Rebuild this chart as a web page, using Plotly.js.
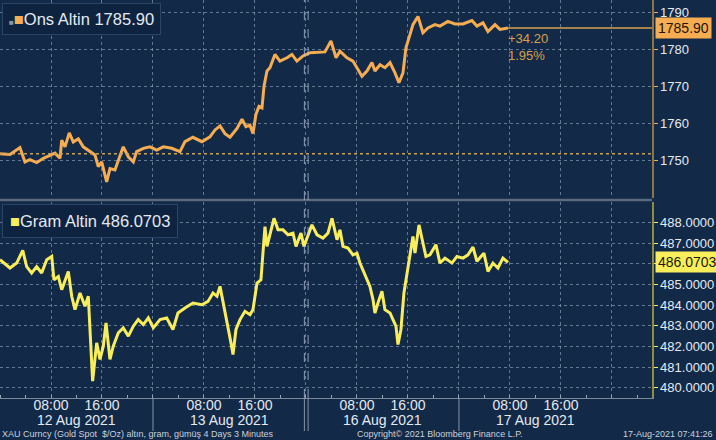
<!DOCTYPE html>
<html>
<head>
<meta charset="utf-8">
<script src="https://cdn.plot.ly/plotly-3.0.1.min.js"></script>
<style>
html,body{margin:0;padding:0;background:#122948;}
#chart{width:716px;height:440px;}
</style>
</head>
<body>
<div id="chart"></div>
<script>
// ---- data ----
const onsTime = ['2021-08-12 00:00','2021-08-12 01:34','2021-08-12 03:08','2021-08-12 03:55','2021-08-12 04:42','2021-08-12 05:45','2021-08-12 06:48','2021-08-12 07:51','2021-08-12 08:38','2021-08-12 09:25','2021-08-12 09:41','2021-08-12 10:12','2021-08-12 10:52','2021-08-12 11:30','2021-08-12 12:17','2021-08-12 13:04','2021-08-12 14:07','2021-08-12 14:54','2021-08-12 15:25','2021-08-12 15:57','2021-08-12 16:44','2021-08-12 17:15','2021-08-12 18:02','2021-08-12 18:34','2021-08-12 19:20','2021-08-12 20:08','2021-08-12 20:55','2021-08-12 21:26','2021-08-12 22:29','2021-08-12 23:32','2021-08-13 00:35','2021-08-13 01:37','2021-08-13 02:56','2021-08-13 04:14','2021-08-13 05:01','2021-08-13 06:16','2021-08-13 07:41','2021-08-13 08:56','2021-08-13 09:44','2021-08-13 10:31','2021-08-13 11:18','2021-08-13 12:05','2021-08-13 13:11','2021-08-13 13:58','2021-08-13 14:35','2021-08-13 15:13','2021-08-13 15:41','2021-08-13 16:09','2021-08-13 16:38','2021-08-13 17:06','2021-08-13 17:25','2021-08-13 17:53','2021-08-13 18:21','2021-08-13 19:08','2021-08-13 19:55','2021-08-13 21:01','2021-08-13 21:48','2021-08-13 22:35','2021-08-13 23:32','2021-08-16 00:38','2021-08-16 01:44','2021-08-16 02:59','2021-08-16 03:55','2021-08-16 04:43','2021-08-16 05:20','2021-08-16 06:26','2021-08-16 07:22','2021-08-16 08:00','2021-08-16 08:47','2021-08-16 09:34','2021-08-16 10:21','2021-08-16 10:49','2021-08-16 11:37','2021-08-16 12:23','2021-08-16 13:11','2021-08-16 13:58','2021-08-16 14:35','2021-08-16 15:13','2021-08-16 15:41','2021-08-16 16:19','2021-08-16 16:47','2021-08-16 17:34','2021-08-16 18:21','2021-08-16 19:08','2021-08-16 20:14','2021-08-16 21:01','2021-08-16 22:16','2021-08-16 23:22','2021-08-17 00:38','2021-08-17 02:02','2021-08-17 02:49','2021-08-17 03:46','2021-08-17 04:33','2021-08-17 05:39','2021-08-17 06:26','2021-08-17 07:41'];
const onsValue = [1751.7,1751.5,1753.4,1749.5,1750.1,1749.3,1750.5,1751.4,1751.9,1750.5,1755.4,1753.6,1757.4,1754.9,1755.8,1753.6,1752.3,1751.4,1748.2,1749.5,1744.1,1747.7,1747.3,1750.0,1753.6,1750.9,1749.5,1752.3,1753.2,1753.6,1752.7,1753.6,1753.2,1752.3,1755.0,1756.2,1755.0,1756.3,1758.2,1759.3,1757.2,1756.2,1758.6,1761.1,1759.1,1759.5,1757.2,1762.4,1764.6,1764.2,1770.1,1774.2,1775.1,1778.7,1776.9,1777.8,1778.7,1776.9,1778.3,1779.2,1779.2,1779.4,1782.4,1777.8,1779.6,1777.8,1776.9,1775.1,1772.8,1774.2,1776.5,1774.2,1775.9,1775.1,1776.5,1773.7,1771.0,1773.7,1780.5,1784.1,1786.8,1789.0,1784.6,1785.9,1786.8,1786.4,1787.7,1787.0,1787.0,1787.9,1786.4,1787.3,1784.9,1786.8,1785.5,1785.9];

const gramTime = ['2021-08-12 00:00','2021-08-12 01:34','2021-08-12 02:37','2021-08-12 03:34','2021-08-12 04:11','2021-08-12 04:58','2021-08-12 05:45','2021-08-12 06:32','2021-08-12 07:20','2021-08-12 08:07','2021-08-12 08:28','2021-08-12 09:09','2021-08-12 09:41','2021-08-12 10:12','2021-08-12 10:43','2021-08-12 11:15','2021-08-12 11:46','2021-08-12 12:33','2021-08-12 13:20','2021-08-12 13:51','2021-08-12 14:14','2021-08-12 14:32','2021-08-12 15:10','2021-08-12 15:41','2021-08-12 16:12','2021-08-12 16:38','2021-08-12 17:15','2021-08-12 17:46','2021-08-12 18:34','2021-08-12 19:20','2021-08-12 20:08','2021-08-12 20:55','2021-08-12 21:41','2021-08-12 22:29','2021-08-12 23:16','2021-08-13 00:03','2021-08-13 01:06','2021-08-13 02:09','2021-08-13 03:08','2021-08-13 03:55','2021-08-13 05:01','2021-08-13 06:16','2021-08-13 07:41','2021-08-13 08:38','2021-08-13 09:25','2021-08-13 10:02','2021-08-13 10:31','2021-08-13 10:59','2021-08-13 11:37','2021-08-13 12:14','2021-08-13 12:33','2021-08-13 13:01','2021-08-13 13:39','2021-08-13 14:26','2021-08-13 15:13','2021-08-13 15:41','2021-08-13 16:19','2021-08-13 16:56','2021-08-13 17:15','2021-08-13 17:34','2021-08-13 17:53','2021-08-13 18:21','2021-08-13 18:59','2021-08-13 19:37','2021-08-13 20:24','2021-08-13 21:11','2021-08-13 21:58','2021-08-13 22:26','2021-08-13 23:13','2021-08-13 23:41','2021-08-16 00:56','2021-08-16 01:44','2021-08-16 02:40','2021-08-16 03:27','2021-08-16 04:05','2021-08-16 04:52','2021-08-16 05:20','2021-08-16 05:48','2021-08-16 06:35','2021-08-16 07:22','2021-08-16 08:00','2021-08-16 08:28','2021-08-16 09:15','2021-08-16 10:02','2021-08-16 10:31','2021-08-16 10:49','2021-08-16 11:17','2021-08-16 11:55','2021-08-16 12:23','2021-08-16 13:11','2021-08-16 13:39','2021-08-16 14:07','2021-08-16 14:26','2021-08-16 14:54','2021-08-16 15:22','2021-08-16 15:50','2021-08-16 16:19','2021-08-16 16:47','2021-08-16 17:06','2021-08-16 17:44','2021-08-16 18:21','2021-08-16 18:49','2021-08-16 19:27','2021-08-16 20:23','2021-08-16 21:01','2021-08-16 21:48','2021-08-16 22:54','2021-08-16 23:41','2021-08-17 00:38','2021-08-17 01:25','2021-08-17 02:12','2021-08-17 02:49','2021-08-17 03:27','2021-08-17 03:55','2021-08-17 04:33','2021-08-17 05:20','2021-08-17 06:07','2021-08-17 06:54','2021-08-17 07:41'];
const gramValue = [486.20,485.80,486.04,486.65,485.87,485.56,485.87,485.56,486.20,486.36,485.23,485.39,484.75,485.23,485.63,484.43,483.78,484.59,483.95,484.43,481.85,480.32,482.17,481.37,482.01,483.14,481.37,482.01,482.66,482.90,482.50,482.98,483.30,483.06,483.38,482.90,483.30,483.38,482.82,483.62,483.86,484.10,484.02,484.18,484.59,484.43,484.91,484.18,483.30,482.17,481.61,482.82,483.30,483.70,483.54,483.78,485.07,485.23,486.52,487.81,486.85,487.49,488.21,487.65,487.65,487.41,487.49,486.85,487.49,486.85,487.89,487.41,487.25,487.49,488.21,487.17,487.65,486.85,486.77,486.44,486.52,486.04,485.47,484.91,484.27,483.62,484.10,484.67,483.78,483.62,483.30,482.98,482.09,482.82,484.59,485.56,486.52,487.33,486.52,487.89,487.01,486.36,486.44,486.93,486.04,486.28,486.04,486.36,486.28,486.44,486.81,486.12,486.36,486.52,485.63,486.04,485.80,486.28,486.0703];

const onsName = 'Ons Altin';
const gramName = 'Gram Altin';
const onsLast = 1785.90;
const onsStart = 1751.70;
const onsChange = '+34.20';
const onsChangePct = '1.95%';
const gramLast = 486.0703;
const onsTicks = [1750, 1760, 1770, 1780, 1790];
const gramTicks = [480, 481, 482, 483, 484, 485, 486, 487, 488];
const gramHiddenTick = 486; // covered by the last-value tag
const tradingDays = ['2021-08-12', '2021-08-13', '2021-08-16', '2021-08-17', '2021-08-18'];
const dayLabels = ['12 Aug 2021', '13 Aug 2021', '16 Aug 2021', '17 Aug 2021'];
const xStart = '2021-08-12 00:00';
const xEnd = '2021-08-18 06:17';
const footerLeft = 'XAU Curncy (Gold Spot  $/Oz) altın, gram, gümüş 4 Days 3 Minutes';
const footerMid = 'Copyright© 2021 Bloomberg Finance L.P.';
const footerRight = '17-Aug-2021 07:41:26';

// ---- styles ----
const BG = '#122948';
const ORANGE = '#f6ad52';
const YELLOW = '#f8ee5c';
const GRID = 'rgba(165,185,210,0.55)';
const TXT = '#e4eaf1';
const FONT = 'Liberation Sans, Arial, sans-serif';

// x ticks: labels at 08:00 / 16:00, grid at 00/08/16
const tickvals = [], ticktext = [];
tradingDays.forEach(d => {
  [0, 8, 16].forEach(h => {
    const t = d + ' ' + String(h).padStart(2, '0') + ':00';
    if (t >= xStart && t <= xEnd) {
      tickvals.push(t);
      ticktext.push(h === 0 ? '' : String(h).padStart(2, '0') + ':00');
    }
  });
});

const traces = [
  {x: onsTime, y: onsValue, type: 'scatter', mode: 'lines', xaxis: 'x', yaxis: 'y',
   line: {color: ORANGE, width: 3}, hoverinfo: 'skip'},
  {x: gramTime, y: gramValue, type: 'scatter', mode: 'lines', xaxis: 'x', yaxis: 'y2',
   line: {color: YELLOW, width: 3}, hoverinfo: 'skip'}
];

const lastOnsTime = onsTime[onsTime.length - 1];

const sepColor = '#8793a5';
const shapes = [
  // start reference (dotted)
  {type: 'line', xref: 'paper', yref: 'y', x0: 0, x1: 1, y0: onsStart, y1: onsStart,
   line: {color: '#c9a25a', width: 1.5, dash: 'dot'}},
  // last value line
  {type: 'line', xref: 'x', yref: 'y', x0: lastOnsTime, x1: xEnd, y0: onsLast, y1: onsLast,
   line: {color: '#a3824c', width: 2}},
  // panel separator
  {type: 'line', xref: 'paper', yref: 'paper', x0: 0, x1: 1, y0: 0.4975, y1: 0.4975,
   line: {color: '#5a6a80', width: 2.5}},
  // weekend break (double dashed in plot)
  {type: 'line', xref: 'x', yref: 'paper', x0: '2021-08-13 23:45', x1: '2021-08-13 23:45', y0: 0, y1: 1,
   line: {color: 'rgba(190,205,225,0.7)', width: 1, dash: 'dash'}},
  {type: 'line', xref: 'x', yref: 'paper', x0: '2021-08-16 00:20', x1: '2021-08-16 00:20', y0: 0, y1: 1,
   line: {color: 'rgba(190,205,225,0.7)', width: 1, dash: 'dash'}},
  // day separators in the axis area
  {type: 'line', xref: 'x', yref: 'paper', x0: '2021-08-13 00:00', x1: '2021-08-13 00:00', y0: -0.083, y1: 0,
   line: {color: sepColor, width: 1}},
  {type: 'line', xref: 'x', yref: 'paper', x0: '2021-08-13 23:45', x1: '2021-08-13 23:45', y0: -0.083, y1: 0,
   line: {color: sepColor, width: 1}},
  {type: 'line', xref: 'x', yref: 'paper', x0: '2021-08-16 00:20', x1: '2021-08-16 00:20', y0: -0.083, y1: 0,
   line: {color: sepColor, width: 1}},
  {type: 'line', xref: 'x', yref: 'paper', x0: '2021-08-17 00:00', x1: '2021-08-17 00:00', y0: -0.083, y1: 0,
   line: {color: sepColor, width: 1}}
];

const annotations = [
  {xref: 'paper', yref: 'paper', x: 0, y: 1, xanchor: 'left', yanchor: 'top', xshift: 2, yshift: -3,
   text: '<span style="color:#8a96a8;font-size:8px">■</span><span style="color:' + ORANGE + '">■</span>' + onsName + ' ' + onsLast.toFixed(2),
   showarrow: false, font: {family: FONT, size: 16.5, color: TXT}, bgcolor: '#0e2340', bordercolor: '#2b4566',
   borderwidth: 1, borderpad: 6, align: 'left'},
  {xref: 'paper', yref: 'paper', x: 0, y: 0.4925, xanchor: 'left', yanchor: 'top', xshift: 2, yshift: -2,
   text: '<span style="color:' + YELLOW + '">■</span>' + gramName + ' ' + gramLast.toFixed(4),
   showarrow: false, font: {family: FONT, size: 16.5, color: TXT}, bgcolor: '#0e2340', bordercolor: '#2b4566',
   borderwidth: 1, borderpad: 7, align: 'left'},
  // change text
  {xref: 'x', yref: 'y', x: lastOnsTime, y: onsLast, xanchor: 'left', yanchor: 'top', yshift: -1, xshift: -2,
   text: onsChange + '<br>' + onsChangePct, showarrow: false, align: 'left',
   font: {family: FONT, size: 13, color: '#d9a04c'}},
  // value tags on right axis
  {xref: 'paper', yref: 'y', x: 1, y: onsLast, xanchor: 'left', yanchor: 'middle', xshift: 3,
   text: onsLast.toFixed(2), showarrow: false, bgcolor: ORANGE, borderpad: 2,
   font: {family: FONT, size: 14, color: '#1b1408'}},
  {xref: 'paper', yref: 'y2', x: 1, y: gramLast, xanchor: 'left', yanchor: 'middle', xshift: 3,
   text: gramLast.toFixed(4), showarrow: false, bgcolor: YELLOW, borderpad: 2,
   font: {family: FONT, size: 14, color: '#1b1a08'}},
  // footer
  {xref: 'paper', yref: 'paper', x: 0, y: 0, xanchor: 'left', yanchor: 'middle', xshift: 1, yshift: -35.5,
   text: footerLeft, showarrow: false, borderpad: 0, font: {family: FONT, size: 9, color: '#c9d2de'}},
  {xref: 'paper', yref: 'paper', x: 0.675, y: 0, xanchor: 'center', yanchor: 'middle', yshift: -35.5,
   text: footerMid, showarrow: false, borderpad: 0, font: {family: FONT, size: 9, color: '#c9d2de'}},
  {xref: 'paper', yref: 'paper', x: 1, y: 0, xanchor: 'right', yanchor: 'middle', xshift: 62, yshift: -35.5,
   text: footerRight, showarrow: false, borderpad: 0, font: {family: FONT, size: 9, color: '#c9d2de'}}
];

// date labels centred on each trading day
dayLabels.forEach((lab, i) => {
  annotations.push({xref: 'x', yref: 'paper', x: tradingDays[i] + ' 12:00', y: 0, xanchor: 'center',
    yanchor: 'middle', yshift: -21.5, text: lab, showarrow: false, borderpad: 0,
    font: {family: FONT, size: 14, color: TXT}});
});

const layout = {
  width: 716, height: 440,
  margin: {l: 0, r: 64, t: 0, b: 42, pad: 0},
  paper_bgcolor: BG, plot_bgcolor: BG,
  showlegend: false,
  font: {family: FONT, color: TXT},
  xaxis: {
    type: 'date', range: [xStart, xEnd], anchor: 'y2',
    rangebreaks: [{bounds: ['sat', 'mon']}],
    tickmode: 'array', tickvals: tickvals, ticktext: ticktext,
    showgrid: true, gridcolor: GRID, griddash: 'dot', gridwidth: 1,
    ticks: '', ticklabelstandoff: -6, tickfont: {family: FONT, size: 14, color: TXT},
    showline: true, linecolor: '#7d8899', linewidth: 1,
    minor: {dtick: 4 * 3600 * 1000, tick0: '2021-08-12 00:00', ticks: 'inside', ticklen: 3,
            tickcolor: '#9aa6b8', showgrid: false},
    zeroline: false, fixedrange: true
  },
  yaxis: {
    domain: [0.5025, 1], range: [1739.7, 1793.5], side: 'right',
    tickmode: 'array', tickvals: onsTicks, ticktext: onsTicks.map(v => String(v)),
    showgrid: true, gridcolor: GRID, griddash: 'dot', gridwidth: 1,
    ticks: 'outside', ticklen: 4, tickcolor: ORANGE, tickwidth: 1,
    showline: true, linecolor: '#8c7548', linewidth: 1.5,
    tickfont: {family: FONT, size: 13, color: TXT}, zeroline: false
  },
  yaxis2: {
    domain: [0, 0.4925], range: [479.5, 489.0], side: 'right', anchor: 'x',
    tickmode: 'array', tickvals: gramTicks,
    ticktext: gramTicks.map(v => v === gramHiddenTick ? '' : v.toFixed(4)),
    showgrid: true, gridcolor: GRID, griddash: 'dot', gridwidth: 1,
    ticks: 'outside', ticklen: 4, tickcolor: YELLOW, tickwidth: 1,
    showline: true, linecolor: '#8f8c45', linewidth: 1.5,
    tickfont: {family: FONT, size: 13, color: TXT}, zeroline: false
  },
  shapes: shapes,
  annotations: annotations
};

Plotly.newPlot('chart', traces, layout, {staticPlot: true, displayModeBar: false});
</script>
</body>
</html>
